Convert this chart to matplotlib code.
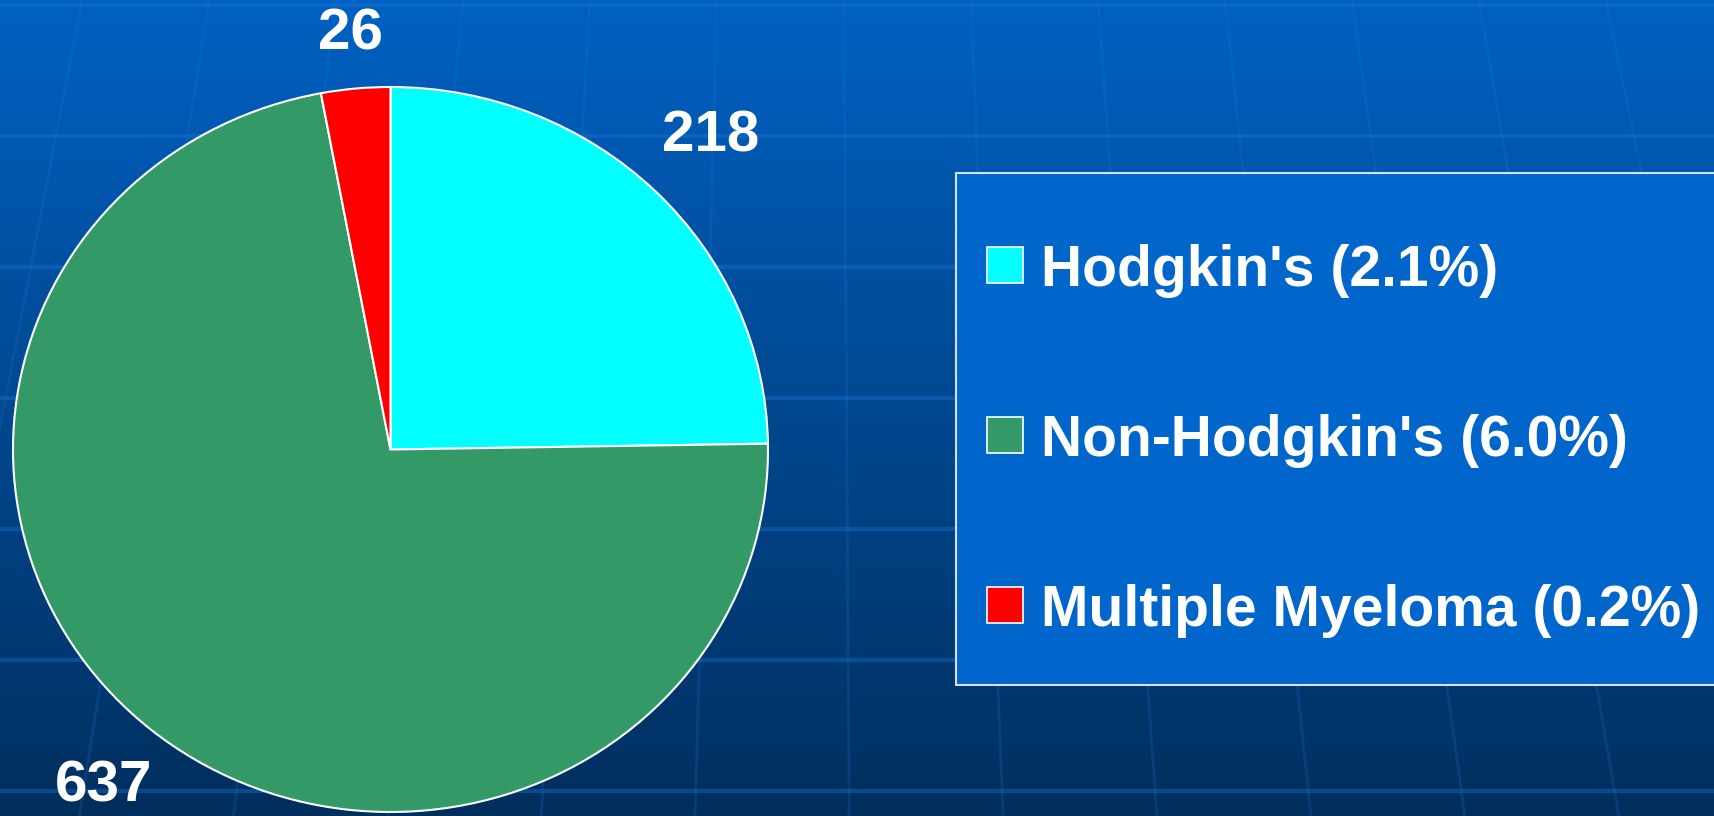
import numpy as np
import matplotlib
matplotlib.use("Agg")
import matplotlib.pyplot as plt
from matplotlib.patches import Rectangle

plt.rcParams["font.family"] = ["Liberation Sans", "DejaVu Sans"]

# ---- data ----
names = ["Hodgkin's", "Non-Hodgkin's", "Multiple Myeloma"]
counts = [218, 637, 26]
pct = [2.1, 6.0, 0.2]
colors = ["#00FFFF", "#339966", "#FF0000"]
label_dist = [1.21, 1.2, 1.15]

W, H = 1714, 816
fig = plt.figure(figsize=(W / 100, H / 100), dpi=100)

# 背景：漸層 + 網格（像素座標）
bg = fig.add_axes([0, 0, 1, 1])
bg.set_xlim(0, W)
bg.set_ylim(H, 0)
bg.axis("off")
top = np.array([0x00, 0x61, 0xC2]) / 255
bot = np.array([0x00, 0x2F, 0x5E]) / 255
t = np.linspace(0, 1, 256)[:, None]
grad = top[None, :] * (1 - t) + bot[None, :] * t
bg.imshow(grad[:, None, :], extent=(0, W, H, 0), aspect="auto", zorder=0)

for y in np.arange(5, H, 131):
    bg.plot([0, W], [y, y], color="#1f78dc", alpha=0.35, lw=3, zorder=1)
xc = 820
for x0 in np.arange(-45, W + 150, 127):
    ys = np.linspace(0, H, 50)
    xs = xc + (x0 - xc) * (1 + 2.6e-4 * ys)
    bg.plot(xs, ys, color="#1f78dc", alpha=0.2, lw=2, zorder=1)

# 圖例方框
bg.add_patch(Rectangle((956, 173), 800, 512, facecolor="#0066CC",
                       edgecolor="#D8E0EC", lw=1.5, zorder=2))
rows_y = [264.5, 435, 604.5]
for nm, p, c, y in zip(names, pct, colors, rows_y):
    bg.add_patch(Rectangle((987, y - 18), 36, 36, facecolor=c,
                           edgecolor="white", lw=1.2, zorder=3))
    bg.text(1041, y, f"{nm} ({p:.1f}%)", color="white", fontsize=41,
            fontweight="bold", ha="left", va="center_baseline", zorder=3)

# ---- 圓餅 ----
ax = fig.add_axes([13 / W, 4 / H, 755 / W, 725 / H])
wedges, _ = ax.pie(counts, colors=colors, startangle=90, counterclock=False,
                   wedgeprops=dict(edgecolor="white", linewidth=1.5))
ax.set_aspect("auto")
ax.set_xlim(-1, 1)
ax.set_ylim(-1, 1)
ax.axis("off")
for w, n, d in zip(wedges, counts, label_dist):
    a = np.deg2rad(0.5 * (w.theta1 + w.theta2))
    ax.text(d * np.cos(a), d * np.sin(a), str(n), color="white",
            fontsize=42, fontweight="bold", ha="center", va="center",
            clip_on=False)

fig.savefig("out.png", dpi=100)
